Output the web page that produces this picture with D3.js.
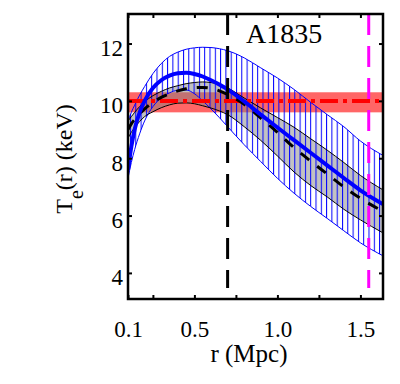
<!DOCTYPE html>
<html>
<head>
<meta charset="utf-8">
<script src="https://cdn.jsdelivr.net/npm/d3@7"></script>
<style>
body { margin: 0; background: #fff; }
text { font-family: "Liberation Serif", "Times New Roman", serif; fill: #000; }
</style>
</head>
<body>
<svg id="chart" width="400" height="384"></svg>
<script>
// radius grid (Mpc) shared by all profiles
var rGrid = [0.10, 0.12, 0.14, 0.17, 0.20, 0.25, 0.30, 0.35, 0.40, 0.45, 0.50, 0.55,
	0.60, 0.65, 0.70, 0.80, 0.90, 1.00, 1.10, 1.20, 1.30, 1.40, 1.50, 1.635];

// blue profile + hatched envelope
var tBlue   = [7.6, 8.4, 9.0, 9.6, 10.0, 10.45, 10.72, 10.88, 10.96, 10.98, 10.94, 10.85,
	10.72, 10.57, 10.4, 9.98, 9.52, 9.07, 8.63, 8.19, 7.75, 7.31, 6.88, 6.4];
var tBlueHi = [9.3, 9.6, 9.85, 10.2, 10.5, 10.95, 11.3, 11.55, 11.7, 11.8, 11.85, 11.87,
	11.86, 11.82, 11.75, 11.5, 11.15, 10.8, 10.4, 9.95, 9.52, 9.1, 8.6, 8.1];
var tBlueLo = [7.3, 7.85, 8.3, 8.85, 9.3, 9.8, 10.1, 10.28, 10.37, 10.38, 10.25, 10.0,
	9.72, 9.42, 9.1, 8.47, 7.88, 7.3, 6.78, 6.32, 5.9, 5.47, 5.05, 4.6];

// black dashed profile + grey envelope
var tGrey   = [9.0, 9.2, 9.35, 9.55, 9.72, 9.95, 10.12, 10.25, 10.35, 10.42, 10.46, 10.47,
	10.44, 10.35, 10.22, 9.88, 9.4, 8.9, 8.37, 7.9, 7.45, 7.0, 6.6, 6.15];
var tGreyHi = [9.3, 9.45, 9.6, 9.8, 9.97, 10.18, 10.33, 10.45, 10.53, 10.6, 10.64, 10.66,
	10.64, 10.57, 10.45, 10.1, 9.75, 9.42, 9.08, 8.68, 8.28, 7.85, 7.4, 6.9];
var tGreyLo = [8.7, 8.9, 9.07, 9.28, 9.45, 9.62, 9.76, 9.86, 9.92, 9.93, 9.9, 9.83,
	9.75, 9.65, 9.52, 9.1, 8.62, 8.08, 7.52, 7.05, 6.65, 6.22, 5.85, 5.4];

// average temperature and its band
var tAvg = 10.0;
var tAvgBand = [9.6, 10.3];

// vertical markers (Mpc) and their lower end (keV)
var rBlackMark = 0.70;
var rMagentaMark = 1.55;
var tMarkLow = 3.47;

var xTicks = [0.1, 0.25, 0.5, 0.75, 1.0, 1.25, 1.5];
var xTickLabels = {"0.1": "0.1", "0.5": "0.5", "1": "1.0", "1.5": "1.5"};
var yTicks = [4, 6, 8, 10, 12];

var svg = d3.select("#chart");
var pL = 128, pR = 383, pT = 14, pB = 299;

var x = d3.scaleLinear().domain([0.1, 1.636]).range([pL, pR]);
var y = d3.scaleLinear().domain([3.09, 13.03]).range([pB, pT]);

var defs = svg.append("defs");
defs.append("clipPath").attr("id", "plotclip")
	.append("rect")
	.attr("x", pL).attr("y", pT)
	.attr("width", pR - pL).attr("height", pB - pT);

var hatch = defs.append("pattern")
	.attr("id", "hatch")
	.attr("patternUnits", "userSpaceOnUse")
	.attr("x", pL + 2)
	.attr("width", 5.3)
	.attr("height", 10);
hatch.append("rect")
	.attr("x", 0).attr("y", 0)
	.attr("width", 1).attr("height", 10)
	.attr("fill", "#0000ff");

function pairs(arr) {
	return rGrid.map(function(r, i) { return [r, arr[i]]; });
}
function bounds(lo, hi) {
	return rGrid.map(function(r, i) { return {r: r, lo: lo[i], hi: hi[i]}; });
}

var line = d3.line()
	.x(function(d) { return x(d[0]); })
	.y(function(d) { return y(d[1]); })
	.curve(d3.curveMonotoneX);
var area = d3.area()
	.x(function(d) { return x(d.r); })
	.y0(function(d) { return y(d.lo); })
	.y1(function(d) { return y(d.hi); })
	.curve(d3.curveMonotoneX);

var plot = svg.append("g").attr("clip-path", "url(#plotclip)");

// red band
plot.append("rect")
	.attr("x", x(0.1))
	.attr("y", y(tAvgBand[1]))
	.attr("width", x(1.636) - x(0.1))
	.attr("height", y(tAvgBand[0]) - y(tAvgBand[1]))
	.attr("fill", "#ff6666");

// grey envelope
plot.append("path")
	.datum(bounds(tGreyLo, tGreyHi))
	.attr("d", area)
	.attr("fill", "#808080")
	.attr("fill-opacity", 0.48);

// blue hatched envelope
plot.append("path")
	.datum(bounds(tBlueLo, tBlueHi))
	.attr("d", area)
	.attr("fill", "url(#hatch)")
	.attr("shape-rendering", "crispEdges");

[tBlueHi, tBlueLo].forEach(function(arr) {
	plot.append("path").datum(pairs(arr))
		.attr("d", line)
		.attr("fill", "none")
		.attr("stroke", "#0000ff")
		.attr("stroke-width", 1);
});
[tGreyHi, tGreyLo].forEach(function(arr) {
	plot.append("path").datum(pairs(arr))
		.attr("d", line)
		.attr("fill", "none")
		.attr("stroke", "#000")
		.attr("stroke-width", 1);
});

// average line (dash-dot)
plot.append("line")
	.attr("x1", x(0.1)).attr("x2", x(1.636))
	.attr("y1", y(tAvg)).attr("y2", y(tAvg))
	.attr("stroke", "#ff0000")
	.attr("stroke-width", 4)
	.attr("stroke-dasharray", "18,5,4,5");

plot.append("path").datum(pairs(tGrey))
	.attr("d", line)
	.attr("fill", "none")
	.attr("stroke", "#000")
	.attr("stroke-width", 3)
	.attr("stroke-dasharray", "11,10");

plot.append("path").datum(pairs(tBlue))
	.attr("d", line)
	.attr("fill", "none")
	.attr("stroke", "#0000ff")
	.attr("stroke-width", 4);

// vertical markers
[[rBlackMark, "#000"], [rMagentaMark, "#ff00ff"]].forEach(function(m) {
	plot.append("line")
		.attr("x1", x(m[0])).attr("x2", x(m[0]))
		.attr("y1", y(13.03)).attr("y2", y(tMarkLow))
		.attr("stroke", m[1])
		.attr("stroke-width", 3)
		.attr("stroke-dasharray", "21,11");
});

// axes, ticks pointing inward
function styleAxis(g) {
	g.select(".domain").remove();
	g.selectAll(".tick line").attr("stroke", "#000").attr("stroke-width", 2);
	g.selectAll(".tick text").style("font-size", "23px");
}

svg.append("g")
	.attr("transform", "translate(0," + pB + ")")
	.call(d3.axisBottom(x).tickValues(xTicks).tickSize(-4).tickSizeOuter(0)
		.tickFormat(function(d) { return xTickLabels[String(d)] || ""; }))
	.call(styleAxis)
	.selectAll(".tick text").attr("y", 38).attr("dy", 0);

svg.append("g")
	.attr("transform", "translate(0," + pT + ")")
	.call(d3.axisTop(x).tickValues(xTicks).tickSize(-4).tickSizeOuter(0).tickFormat(""))
	.call(styleAxis);

svg.append("g")
	.attr("transform", "translate(" + pL + ",0)")
	.call(d3.axisLeft(y).tickValues(yTicks).tickSize(-4).tickSizeOuter(0))
	.call(styleAxis)
	.selectAll(".tick text").attr("x", -5).attr("dy", 12);

svg.append("g")
	.attr("transform", "translate(" + pR + ",0)")
	.call(d3.axisRight(y).tickValues(yTicks).tickSize(-4).tickSizeOuter(0).tickFormat(""))
	.call(styleAxis);

svg.append("rect")
	.attr("x", pL).attr("y", pT)
	.attr("width", pR - pL).attr("height", pB - pT)
	.attr("fill", "none")
	.attr("stroke", "#000")
	.attr("stroke-width", 2.5);

// labels
svg.append("text")
	.attr("x", 246).attr("y", 43)
	.style("font-size", "28px")
	.text("A1835");

svg.append("text")
	.attr("x", 249).attr("y", 362)
	.attr("text-anchor", "middle")
	.style("font-size", "25px")
	.text("r (Mpc)");

var ylab = svg.append("text")
	.attr("transform", "translate(72,159) rotate(-90)")
	.attr("text-anchor", "middle")
	.style("font-size", "24px");
ylab.append("tspan").text("T");
ylab.append("tspan").attr("dy", 11).style("font-size", "20px").text("e");
ylab.append("tspan").attr("dy", -11).text("(r) (keV)");
</script>
</body>
</html>
